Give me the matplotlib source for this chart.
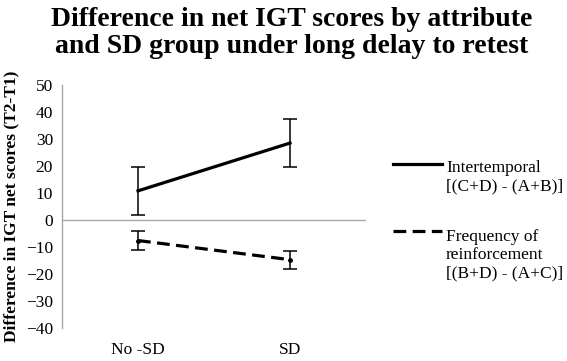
import matplotlib
matplotlib.use("Agg")
import matplotlib.pyplot as plt
from matplotlib.lines import Line2D

groups = ["No -SD", "SD"]
intertemporal = [10.8, 28.5]
intertemporal_err = [8.9, 9.0]
frequency = [-7.6, -14.7]
frequency_err = [3.4, 3.4]
yticks = list(range(-40, 60, 10))

plt.rcParams["font.family"] = ["Liberation Serif", "DejaVu Serif"]

W, H = 567, 361
fig = plt.figure(figsize=(W / 100, H / 100), dpi=100)
ax = fig.add_axes([62 / W, 1 - 328 / H, 304 / W, 243 / H])

x = list(range(len(groups)))
ax.errorbar(x, intertemporal, yerr=intertemporal_err, color="black", linewidth=2.3,
            elinewidth=1.1, capsize=5, capthick=1.1)
ax.errorbar(x, frequency, yerr=frequency_err, color="black", linewidth=2.3,
            linestyle=(0, (4, 2)), elinewidth=1.1, capsize=5, capthick=1.1,
            marker="o", markersize=2.5)

ax.axhline(0, color="#a6a6a6", linewidth=1.0, zorder=0)
ax.set_xlim(-0.5, 1.5)
ax.set_ylim(-40, 50)
ax.set_yticks(yticks)
ax.set_xticks(x)
ax.set_xticklabels(groups)
ax.tick_params(length=0, labelsize=12.5)
ax.tick_params(axis="y", pad=6.5)
ax.tick_params(axis="x", pad=10)
for s in ["top", "right", "bottom"]:
    ax.spines[s].set_visible(False)
ax.spines["left"].set_color("#a6a6a6")
ax.spines["left"].set_linewidth(1.0)
ax.set_ylabel("Difference in IGT net scores (T2-T1)", fontsize=12.5, fontweight="bold", labelpad=5)

# va="baseline" on multi-line text sits on the last line
fig.text(292 / W, 1 - 53 / H,
         "Difference in net IGT scores by attribute\nand SD group under long delay to retest",
         fontsize=20, fontweight="bold", ha="center", va="baseline", linespacing=1.1)

# legend drawn by hand to match the stacked labels
fig.add_artist(Line2D([393 / W, 442 / W], [1 - 164 / H] * 2, color="black", linewidth=2.3))
fig.text(446 / W, 1 - 190 / H, "Intertemporal\n[(C+D) - (A+B)]", fontsize=12.5,
         va="baseline", ha="left", linespacing=1.15)
fig.add_artist(Line2D([393 / W, 442 / W], [1 - 231 / H] * 2, color="black", linewidth=2.3,
                      linestyle=(0, (4, 2))))
fig.text(446 / W, 1 - 277 / H, "Frequency of\nreinforcement\n[(B+D) - (A+C)]", fontsize=12.5,
         va="baseline", ha="left", linespacing=1.15)

fig.savefig("out.png", dpi=100)
